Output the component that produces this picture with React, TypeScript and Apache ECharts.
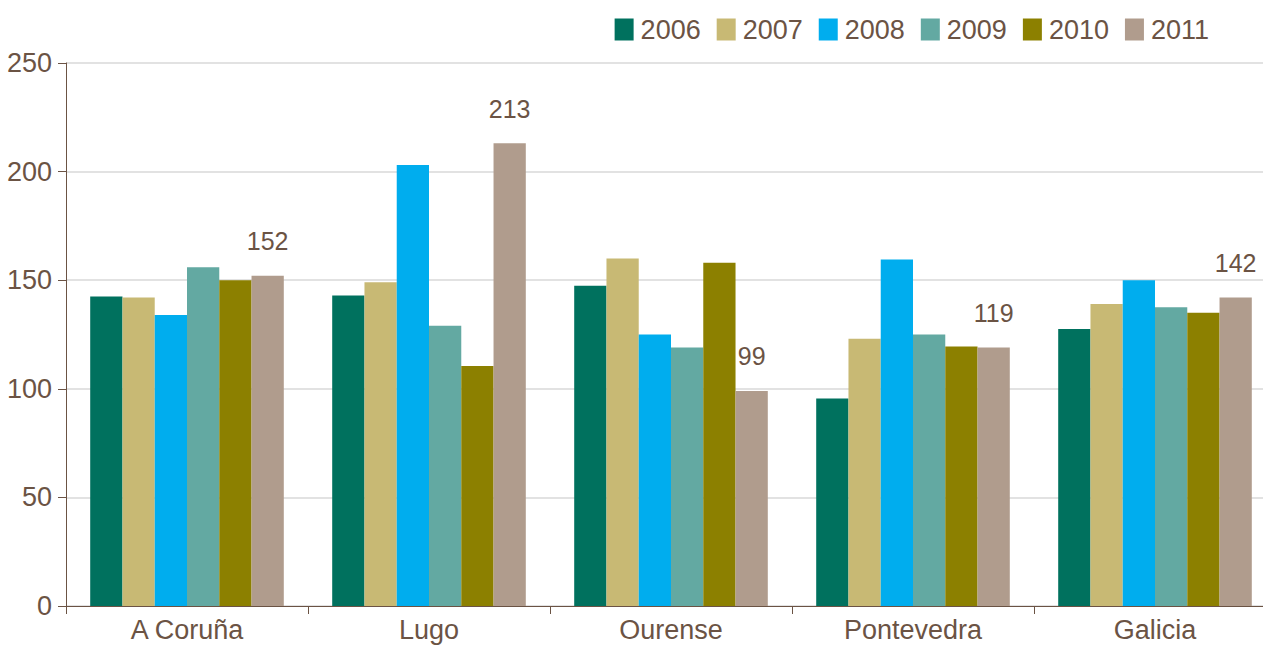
import React, { useEffect, useRef } from "react";
import * as echarts from "echarts";

const categories = ["A Coruña", "Lugo", "Ourense", "Pontevedra", "Galicia"];
const seriesNames = ["2006", "2007", "2008", "2009", "2010", "2011"];
const values2006 = [142.5, 143, 147.5, 95.5, 127.5];
const values2007 = [142, 149, 160, 123, 139];
const values2008 = [134, 203, 125, 159.5, 150];
const values2009 = [156, 129, 119, 125, 137.5];
const values2010 = [150, 110.5, 158, 119.5, 135];
const values2011 = [152, 213, 99, 119, 142];
const colors = ["#00715e", "#c8b974", "#00adee", "#63a9a2", "#8c8000", "#b09c8d"];

const FONT = "'Liberation Sans', Arial, sans-serif";
const TEXT = "#6b5344";

export default function App() {
  const ref = useRef<HTMLDivElement>(null);
  useEffect(() => {
    if (!ref.current) return;
    const chart = echarts.init(ref.current, undefined, { renderer: "svg" });
    const all = [values2006, values2007, values2008, values2009, values2010, values2011];
    chart.setOption({
      animation: false,
      backgroundColor: "#ffffff",
      color: colors,
      textStyle: { fontFamily: FONT, color: TEXT },
      legend: {
        top: 16,
        right: 67,
        padding: 0,
        itemWidth: 19,
        itemHeight: 22,
        itemGap: 16,
        icon: "rect",
        textStyle: { fontSize: 27, lineHeight: 22, color: TEXT, fontFamily: FONT, padding: [0, 0, 0, 2] },
        data: seriesNames,
      },
      grid: { left: 66, right: 0, top: 63, bottom: 40 },
      xAxis: {
        type: "category",
        data: categories,
        axisLine: { lineStyle: { color: TEXT, width: 1 } },
        axisTick: { show: true, length: 8, lineStyle: { color: TEXT } },
        axisLabel: { fontSize: 27, color: TEXT, fontFamily: FONT, margin: 10 },
      },
      yAxis: {
        type: "value",
        min: 0,
        max: 250,
        interval: 50,
        axisLine: { show: true, lineStyle: { color: TEXT, width: 1 } },
        axisTick: { show: true, length: 8, lineStyle: { color: TEXT } },
        axisLabel: { fontSize: 27, color: TEXT, fontFamily: FONT, margin: 14 },
        splitLine: { lineStyle: { color: "#d9d9d9", width: 1.5 } },
      },
      series: seriesNames.map((name, i) => ({
        name,
        type: "bar",
        data: all[i],
        barGap: "0%",
        barCategoryGap: "20%",
        itemStyle: { color: colors[i] },
        label:
          i === 5
            ? {
                show: true,
                position: "top",
                distance: 22,
                fontSize: 25,
                color: TEXT,
                fontFamily: FONT,
                formatter: (p: any) => String(Math.round(p.value)),
              }
            : { show: false },
      })),
    });
    return () => chart.dispose();
  }, []);
  return (
    <div style={{ position: "fixed", left: 0, top: 0, width: 1263, height: 646, overflow: "hidden", background: "#fff" }}>
      <div ref={ref} style={{ width: 1276, height: 646 }} />
    </div>
  );
}
